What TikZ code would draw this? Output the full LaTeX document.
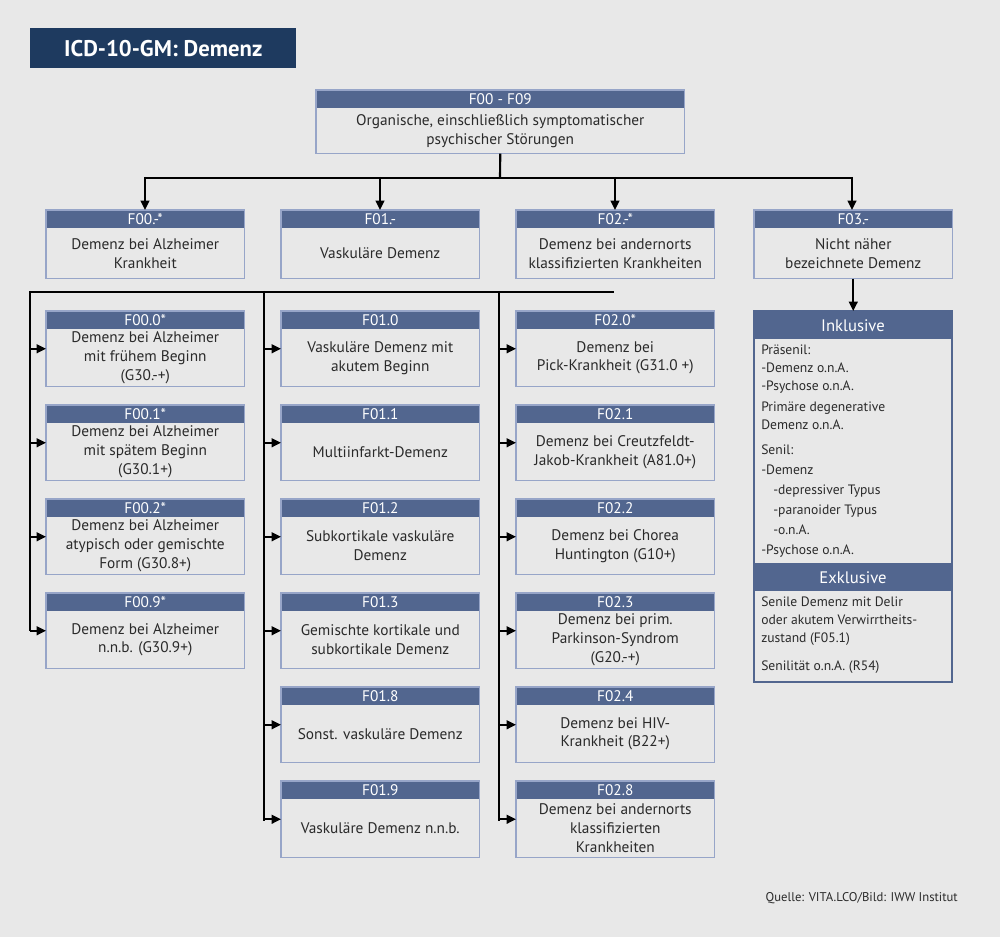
\documentclass[tikz,border=0pt]{standalone}
\usepackage{fontspec}
\setmainfont{PT Sans}
\usetikzlibrary{arrows.meta,calc}
\definecolor{bg}{HTML}{E8E8E8}
\definecolor{hdr}{HTML}{52668F}
\definecolor{navy}{HTML}{1E3A5F}
\definecolor{brd}{HTML}{97A5C8}
\definecolor{txt}{HTML}{2A2A2A}
\tikzset{
 arr/.style={line width=1.6pt,-{Triangle[length=7pt,width=6.5pt]}},
 ln/.style={line width=1.6pt},
 btxt/.style={text=txt,font=\fontsize{11.5}{14.2}\selectfont,align=center,inner sep=0pt},
 htxt/.style={text=white,font=\fontsize{11.5}{13}\selectfont,inner sep=0pt},
 ltxt/.style={text=txt,font=\fontsize{10.2}{13.2}\selectfont,align=left,inner sep=0pt,anchor=north west},
}
\newcommand\bx[7]{%
 \node[minimum width=#4*0.75pt,minimum height=#5*0.75pt,anchor=north west,inner sep=0pt] (#1) at (#2,#3) {};
 \fill[hdr] (#1.north west) rectangle ([yshift=-13.5pt]#1.north east);
 \draw[brd,line width=0.8pt] (#1.north west) rectangle (#1.south east);
 \node[htxt] at ([yshift=-6.9pt]#1.north) {#6};
 \node[btxt] at ([yshift=-6.75pt]#1.center) {#7};
}
\begin{document}
\begin{tikzpicture}[x=0.75pt,y=-0.75pt]
\fill[bg] (0,0) rectangle (1000,937);
\useasboundingbox (0,0) rectangle (1000,937);
\node[fill=navy,text=white,font=\bfseries\fontsize{17}{20}\selectfont,minimum width=266*0.75pt,minimum height=40*0.75pt,anchor=north west,inner sep=0pt] (title) at (30,28) {ICD-10-GM: Demenz};
\bx{top}{316}{90}{368}{63}{F00 - F09}{Organische, einschließlich symptomatischer\\psychischer Störungen}
\bx{c0}{46}{210}{198}{68}{F00.-*}{Demenz bei Alzheimer\\Krankheit}
\bx{c1}{281}{210}{198}{68}{F01.-}{Vaskuläre Demenz}
\bx{c2}{516}{210}{198}{68}{F02.-*}{Demenz bei andernorts\\klassifizierten Krankheiten}
\bx{c3}{754}{210}{198}{68}{F03.-}{Nicht näher\\bezeichnete Demenz}
% column 0
\bx{a0}{46}{311}{198}{75}{F00.0*}{Demenz bei Alzheimer\\mit frühem Beginn\\(G30.-+)}
\bx{a1}{46}{405}{198}{75}{F00.1*}{Demenz bei Alzheimer\\mit spätem Beginn\\(G30.1+)}
\bx{a2}{46}{499}{198}{75}{F00.2*}{Demenz bei Alzheimer\\atypisch oder gemischte\\Form (G30.8+)}
\bx{a3}{46}{593}{198}{75}{F00.9*}{Demenz bei Alzheimer\\n.n.b. (G30.9+)}
% column 1
\bx{b0}{281}{311}{198}{75}{F01.0}{Vaskuläre Demenz mit\\akutem Beginn}
\bx{b1}{281}{405}{198}{75}{F01.1}{Multiinfarkt-Demenz}
\bx{b2}{281}{499}{198}{75}{F01.2}{Subkortikale vaskuläre\\Demenz}
\bx{b3}{281}{593}{198}{75}{F01.3}{Gemischte kortikale und\\subkortikale Demenz}
\bx{b4}{281}{687}{198}{75}{F01.8}{Sonst. vaskuläre Demenz}
\bx{b5}{281}{781}{198}{76}{F01.9}{Vaskuläre Demenz n.n.b.}
% column 2
\bx{d0}{516}{311}{198}{75}{F02.0*}{Demenz bei\\Pick-Krankheit (G31.0 +)}
\bx{d1}{516}{405}{198}{75}{F02.1}{Demenz bei Creutzfeldt-\\Jakob-Krankheit (A81.0+)}
\bx{d2}{516}{499}{198}{75}{F02.2}{Demenz bei Chorea\\Huntington (G10+)}
\bx{d3}{516}{593}{198}{75}{F02.3}{Demenz bei prim.\\Parkinson-Syndrom\\(G20.-+)}
\bx{d4}{516}{687}{198}{75}{F02.4}{Demenz bei HIV-\\Krankheit (B22+)}
\bx{d5}{516}{781}{198}{76}{F02.8}{Demenz bei andernorts\\klassifizierten\\Krankheiten}
% Inklusive / Exklusive
\node[minimum width=198*0.75pt,minimum height=371*0.75pt,anchor=north west,inner sep=0pt] (inc) at (754,311) {};
\fill[hdr] (754,311) rectangle (952,339);
\fill[hdr] (754,563) rectangle (952,591);
\draw[hdr,line width=0.9pt] (754,311) rectangle (952,682);
\node[htxt,font=\fontsize{12.5}{14}\selectfont] at (853,325.5) {Inklusive};
\node[htxt,font=\fontsize{12.5}{14}\selectfont] at (853,577.5) {Exklusive};
\node[ltxt] at (761,345) {Präsenil:\\-Demenz o.n.A.\\-Psychose o.n.A.};
\node[ltxt] at (761,402) {Primäre degenerative\\Demenz o.n.A.};
\node[ltxt,font=\fontsize{10.2}{15}\selectfont] at (761,445) {Senil:\\-Demenz\\\hspace*{9pt}-depressiver Typus\\\hspace*{9pt}-paranoider Typus\\\hspace*{9pt}-o.n.A.\\-Psychose o.n.A.};
\node[ltxt] at (761,597) {Senile Demenz mit Delir\\oder akutem Verwirrtheits-\\zustand (F05.1)};
\node[ltxt] at (761,661) {Senilität o.n.A. (R54)};
% connectors top
\coordinate (tj) at (500,178);
\draw[ln] (top.south) -- (tj);
\draw[ln] (145,178) -- (852,178);
\foreach \n/\x in {c0/145,c1/380,c2/615,c3/852}{\draw[arr] (\x,177) -- (\n.north -| \x,0);}
\draw[arr] (c3.south) -- (inc.north);
% branch lines
\draw[ln] (30,292) -- (614,292);
\draw[ln] (30,291) -- (30,631);
\draw[ln] (264,291) -- (264,821);
\draw[ln] (499,291) -- (499,821);
\foreach \n in {a0,a1,a2,a3}{\draw[arr] (\n.west -| 30,0) -- (\n.west);}
\foreach \n in {b0,b1,b2,b3,b4,b5}{\draw[arr] (\n.west -| 264,0) -- (\n.west);}
\foreach \n in {d0,d1,d2,d3,d4,d5}{\draw[arr] (\n.west -| 499,0) -- (\n.west);}
\node[text=txt,font=\fontsize{9.5}{11}\selectfont,anchor=east,inner sep=0pt] (src) at (958,898) {Quelle: VITA.LCO/Bild: IWW Institut};
\end{tikzpicture}
\end{document}
